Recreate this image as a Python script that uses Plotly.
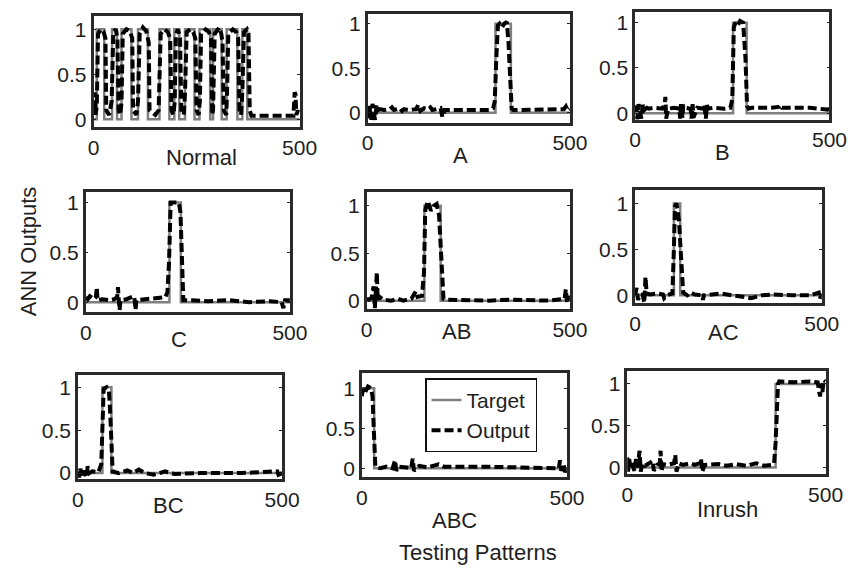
import plotly.graph_objects as go

# ---------------- data ----------------
PATTERNS = ["Normal", "A", "B", "C", "AB", "AC", "BC", "ABC", "Inrush"]
X_TICKS = [0, 500]
Y_TICKS = [0, 0.5, 1]
Y_TICK_TEXT = ["0", "0.5", "1"]
LEGEND_NAMES = ["Target", "Output"]

# Target step functions (pattern index, value) pairs
TARGET_NORMAL = [(0, 0), (8, 0), (8, 1), (26, 1), (26, 0), (45, 0), (45, 1), (57, 1), (57, 0),
                 (68, 0), (68, 1), (92, 1), (92, 0), (108, 0), (108, 1), (132, 1), (132, 0),
                 (160, 0), (160, 1), (184, 1), (184, 0), (196, 0), (196, 1), (208, 1), (208, 0),
                 (222, 0), (222, 1), (245, 1), (245, 0), (257, 0), (257, 1), (283, 1), (283, 0),
                 (290, 0), (290, 1), (311, 1), (311, 0), (323, 0), (323, 1), (349, 1), (349, 0),
                 (361, 0), (361, 1), (373, 1), (373, 0), (500, 0)]
TARGET_A = [(0, 0), (316, 0), (316, 1), (354, 1), (354, 0), (500, 0)]
TARGET_B = [(0, 0), (252, 0), (252, 1), (287, 1), (287, 0), (500, 0)]
TARGET_C = [(0, 0), (205, 0), (205, 1), (233, 1), (233, 0), (500, 0)]
TARGET_AB = [(0, 0), (142, 0), (142, 1), (182, 1), (182, 0), (500, 0)]
TARGET_AC = [(0, 0), (104, 0), (104, 1), (121, 1), (121, 0), (500, 0)]
TARGET_BC = [(0, 0), (60, 0), (60, 1), (82, 1), (82, 0), (500, 0)]
TARGET_ABC = [(0, 1), (30, 1), (30, 0), (500, 0)]
TARGET_INRUSH = [(0, 0), (374, 0), (374, 1), (500, 1)]

# ANN outputs (pattern index, value)
OUT_NORMAL = [(0, 0.1), (3, 0.3), (5, 0.05), (8, 0.15), (11, 0.95), (18, 1.0), (24, 0.98), (29, 0.9),
              (31, 0.1), (38, 0.05), (44, 0.2), (48, 0.97), (54, 1.0), (58, 0.9), (61, 0.1),
              (65, 0.05), (68, 0.2), (71, 0.95), (80, 1.0), (88, 0.98), (94, 0.9), (96, 0.1),
              (104, 0.05), (108, 0.2), (112, 0.95), (120, 1.02), (128, 0.98), (134, 0.85),
              (136, 0.1), (150, 0.05), (158, 0.1), (163, 0.95), (172, 1.0), (180, 0.97), (186, 0.9),
              (189, 0.1), (194, 0.05), (197, 0.2), (200, 0.95), (205, 1.0), (210, 0.9), (213, 0.1),
              (219, 0.05), (222, 0.3), (226, 0.97), (235, 1.0), (242, 0.97), (247, 0.9), (250, 0.1),
              (255, 0.05), (258, 0.2), (261, 0.95), (272, 1.0), (280, 0.97), (285, 0.9), (288, 0.05),
              (290, 0.1), (294, 0.95), (305, 1.02), (310, 0.95), (313, 0.85), (316, 0.1), (322, 0.05),
              (324, 0.3), (327, 0.95), (338, 1.0), (346, 0.97), (351, 0.9), (354, 0.1), (358, 0.05),
              (361, 0.3), (365, 0.97), (372, 1.0), (376, 0.95), (379, 0.1), (383, 0.04), (420, 0.04),
              (485, 0.04), (488, 0.3), (490, 0.28), (492, 0.05), (496, 0.1), (500, 0.04)]
OUT_A = [(0, 0.05), (2, -0.08), (4, 0.08), (6, 0.02), (9, -0.08), (12, 0.1), (15, 0.03), (18, -0.08),
         (22, 0.08), (26, 0.03), (30, 0.04), (40, 0.03), (55, 0.04), (60, 0.06), (65, 0.03),
         (70, 0.04), (80, 0.05), (85, 0.02), (90, 0.04), (100, 0.03), (120, 0.04), (125, 0.09),
         (130, 0.02), (140, 0.05), (150, 0.04), (155, 0.06), (160, 0.03), (180, 0.05), (185, -0.05),
         (190, 0.03), (250, 0.03), (300, 0.03), (310, 0.05), (314, 0.12), (318, 0.6), (322, 0.98),
         (326, 1.0), (332, 0.96), (338, 1.0), (344, 1.02), (348, 0.8), (352, 0.4), (356, 0.05),
         (360, 0.03), (400, 0.03), (450, 0.03), (485, 0.04), (490, 0.07), (495, 0.02), (500, 0.04)]
OUT_B = [(0, 0.05), (3, 0.08), (6, -0.07), (9, 0.1), (12, 0.05), (16, -0.06), (20, 0.09), (25, 0.04),
         (30, 0.06), (35, 0.05), (50, 0.06), (70, 0.05), (76, 0.1), (78, 0.18), (80, -0.06),
         (85, 0.05), (100, 0.06), (114, 0.05), (116, -0.06), (118, 0.1), (122, -0.05), (124, 0.09),
         (130, 0.06), (143, 0.05), (145, -0.06), (148, 0.1), (150, -0.05), (160, 0.06), (176, 0.05),
         (178, 0.1), (182, -0.06), (185, 0.09), (188, 0.05), (200, 0.06), (230, 0.05), (245, 0.06),
         (250, 0.15), (254, 0.95), (258, 1.0), (264, 0.97), (270, 1.02), (278, 1.0), (284, 0.6),
         (288, 0.08), (292, 0.05), (300, 0.06), (350, 0.06), (370, 0.07), (374, 0.09), (378, 0.06),
         (400, 0.06), (450, 0.06), (495, 0.04), (500, 0.05)]
OUT_C = [(0, 0.05), (5, 0.03), (10, 0.06), (20, 0.03), (25, 0.05), (27, 0.15), (29, 0.02), (40, 0.03),
         (59, 0.02), (70, 0.03), (77, 0.05), (79, 0.15), (81, 0.02), (83, -0.08), (85, 0.02),
         (100, 0.03), (112, 0.05), (118, 0.06), (120, 0.02), (122, -0.08), (124, 0.02), (140, 0.03),
         (170, 0.04), (195, 0.05), (200, 0.1), (204, 0.4), (208, 1.0), (220, 1.0), (228, 1.0),
         (232, 0.9), (236, 0.3), (239, 0.02), (260, 0.02), (300, 0.01), (350, 0.02), (400, 0.0),
         (450, 0.01), (480, 0.0), (484, -0.06), (488, 0.02), (500, 0.02)]
OUT_AB = [(0, 0.02), (5, 0.01), (12, 0.03), (17, 0.15), (20, -0.08), (23, 0.12), (25, 0.3), (27, 0.0),
          (29, 0.05), (40, 0.01), (60, 0.0), (77, 0.02), (90, 0.0), (110, 0.02), (117, 0.08),
          (121, 0.1), (125, 0.04), (136, 0.05), (141, 0.3), (144, 0.95), (150, 1.05), (158, 0.95),
          (165, 1.0), (172, 1.02), (178, 0.9), (182, 0.6), (186, 0.3), (189, 0.02), (200, 0.01),
          (250, 0.0), (300, 0.0), (350, 0.01), (400, 0.01), (450, 0.0), (487, 0.02), (490, 0.12),
          (493, -0.02), (497, 0.05), (500, 0.0)]
OUT_AC = [(0, 0.0), (4, 0.08), (8, -0.05), (12, 0.0), (20, 0.01), (25, -0.08), (28, 0.2), (31, 0.02),
          (40, 0.01), (60, 0.02), (75, 0.01), (78, -0.03), (85, 0.0), (100, 0.02), (104, 0.5),
          (107, 0.97), (111, 1.0), (114, 0.9), (118, 0.8), (122, 0.5), (126, 0.2), (129, 0.03),
          (140, 0.0), (150, 0.03), (160, 0.01), (180, 0.0), (182, -0.05), (184, 0.0), (229, 0.02),
          (260, 0.0), (311, -0.03), (340, 0.0), (372, 0.01), (420, 0.0), (470, 0.0), (492, 0.03),
          (495, -0.04), (500, 0.02)]
OUT_BC = [(0, 0.02), (3, -0.05), (6, 0.05), (10, -0.04), (15, 0.03), (20, -0.05), (24, 0.08), (28, 0.0),
          (35, 0.02), (50, 0.01), (57, 0.1), (60, 0.5), (63, 0.98), (70, 1.0), (76, 0.95), (79, 0.7),
          (82, 0.3), (85, 0.02), (100, 0.0), (121, 0.03), (135, 0.0), (149, 0.04), (165, 0.0),
          (185, -0.02), (200, 0.0), (213, 0.02), (236, -0.01), (300, 0.0), (400, 0.0), (488, 0.02),
          (491, -0.02), (500, 0.0)]
OUT_ABC = [(0, 0.9), (3, 1.0), (8, 0.95), (15, 1.02), (22, 1.0), (26, 0.9), (29, 0.5), (33, 0.02),
           (45, 0.0), (60, 0.02), (75, 0.0), (81, 0.1), (84, -0.03), (90, 0.02), (110, 0.01),
           (120, 0.0), (124, 0.12), (127, -0.03), (140, 0.03), (160, 0.01), (187, 0.05), (200, 0.02),
           (300, 0.02), (400, 0.01), (480, 0.0), (483, 0.1), (486, -0.03), (492, 0.05), (495, -0.05),
           (500, 0.02)]
OUT_INRUSH = [(0, 0.12), (2, -0.05), (5, 0.1), (8, 0.0), (12, 0.05), (18, -0.04), (22, 0.1), (26, 0.0),
              (31, 0.2), (34, -0.05), (38, 0.05), (45, 0.02), (55, 0.05), (64, 0.08), (67, -0.04),
              (75, 0.03), (82, 0.05), (84, 0.2), (86, -0.05), (90, 0.04), (100, 0.03), (118, 0.05),
              (121, 0.15), (124, -0.05), (130, 0.05), (140, 0.03), (158, 0.05), (170, 0.03),
              (183, 0.05), (186, 0.1), (189, -0.05), (195, 0.03), (230, 0.04), (250, 0.02),
              (275, 0.04), (300, 0.02), (325, 0.05), (345, 0.02), (365, 0.03), (370, 0.05),
              (374, 0.3), (377, 0.8), (380, 1.0), (383, 1.03), (420, 1.02), (460, 1.03), (480, 1.02),
              (484, 0.9), (486, 0.85), (489, 1.0), (492, 0.9), (495, 1.05), (500, 1.03)]

TARGETS = [TARGET_NORMAL, TARGET_A, TARGET_B, TARGET_C, TARGET_AB, TARGET_AC, TARGET_BC,
           TARGET_ABC, TARGET_INRUSH]
OUTPUTS = [OUT_NORMAL, OUT_A, OUT_B, OUT_C, OUT_AB, OUT_AC, OUT_BC, OUT_ABC, OUT_INRUSH]

# ---------------- layout (pixel boxes) ----------------
W, H = 865, 570
BOXES = [(90, 302, 14, 127), (372, 580, 12, 122), (647, 847, 10, 119),
         (82, 292, 192, 314), (371, 580, 192, 311), (647, 839, 190, 305),
         (74, 284, 378, 483), (366, 577, 376, 481), (639, 843, 374, 478)]
YRANGES = [(-0.09, 1.15), (-0.11, 1.11), (-0.07, 1.12), (-0.1, 1.11), (-0.09, 1.15),
           (-0.086, 1.15), (-0.07, 1.14), (-0.11, 1.185), (-0.08, 1.15)]
LABEL_POS = [(201, 157), (467, 155), (737, 152), (178, 342), (463, 334), (738, 335),
             (167, 510), (461, 525), (742, 514)]
FONT = "Liberation Sans, Arial, sans-serif"
TXT = "#1e1e1e"
FS = 21

fig = go.Figure()
layout = dict(width=W, height=H, margin=dict(l=0, r=0, t=0, b=0), autosize=False,
              paper_bgcolor="white", plot_bgcolor="white",
              font=dict(family=FONT, size=FS, color=TXT))
annotations = []

for i in range(9):
    n = "" if i == 0 else str(i + 1)
    l, r, t, b = BOXES[i]
    tx = [p[0] for p in TARGETS[i]]
    ty = [p[1] for p in TARGETS[i]]
    ox = [p[0] for p in OUTPUTS[i]]
    oy = [p[1] for p in OUTPUTS[i]]
    leg = (i == 7)
    fig.add_trace(go.Scatter(x=tx, y=ty, mode="lines", name=LEGEND_NAMES[0], showlegend=leg,
                             line=dict(color="#7f7f7f", width=2.5),
                             xaxis="x" + n, yaxis="y" + n, hoverinfo="skip"))
    fig.add_trace(go.Scatter(x=ox, y=oy, mode="lines", name=LEGEND_NAMES[1], showlegend=leg,
                             line=dict(color="black", width=4, dash="9px,4px"),
                             xaxis="x" + n, yaxis="y" + n, hoverinfo="skip"))
    layout["xaxis" + n] = dict(domain=[l / W, r / W], range=[0, 500], tickvals=X_TICKS,
                               ticks="inside", ticklen=3, tickcolor="#222",
                               showline=True, mirror="ticks", linecolor="#2a2a2a", linewidth=2.5,
                               showgrid=False, zeroline=False, anchor="y" + n,
                               tickfont=dict(size=FS, family=FONT, color=TXT))
    layout["yaxis" + n] = dict(domain=[1 - b / H, 1 - t / H], range=list(YRANGES[i]),
                               tickvals=Y_TICKS, ticktext=Y_TICK_TEXT,
                               ticks="inside", ticklen=3, tickcolor="#222",
                               showline=True, mirror="ticks", linecolor="#2a2a2a", linewidth=2.5,
                               showgrid=False, zeroline=False, anchor="x" + n,
                               tickfont=dict(size=FS, family=FONT, color=TXT))
    annotations.append(dict(text=PATTERNS[i], x=LABEL_POS[i][0] / W, y=1 - LABEL_POS[i][1] / H,
                            xref="paper", yref="paper", showarrow=False,
                            xanchor="center", yanchor="middle",
                            font=dict(size=22, family=FONT, color=TXT)))

annotations.append(dict(text="ANN Outputs", x=24 / W, y=1 - 252 / H, xref="paper", yref="paper",
                        showarrow=False, textangle=-90, xanchor="center", yanchor="middle",
                        font=dict(size=22, family=FONT, color=TXT)))
annotations.append(dict(text="Testing Patterns", x=485 / W, y=1 - 557 / H, xref="paper",
                        yref="paper", showarrow=False, xanchor="center", yanchor="middle",
                        font=dict(size=22, family=FONT, color=TXT)))
layout["annotations"] = annotations
layout["legend"] = dict(x=431 / W, y=1 - 381 / H, xanchor="left", yanchor="top",
                        bgcolor="white", bordercolor="#111", borderwidth=1.5,
                        font=dict(size=FS, family=FONT, color=TXT),
                        tracegroupgap=0, itemwidth=30)
fig.update_layout(**layout)
fig.write_html("out.html")
